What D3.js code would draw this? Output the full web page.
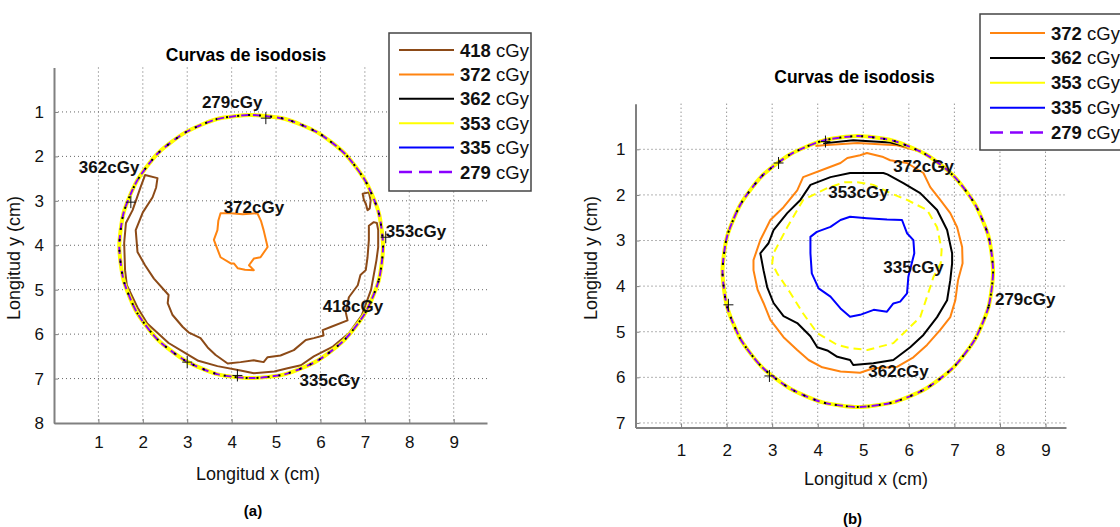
<!DOCTYPE html>
<html>
<head>
<meta charset="utf-8">
<title>Curvas de isodosis</title>
<script src="https://d3js.org/d3.v7.min.js"></script>
<style>
  body { margin: 0; background: #fff; }
  text { font-family: "Liberation Sans", Arial, sans-serif; }
</style>
</head>
<body>
<div id="chart"></div>
<script>
// ---------- data (cm) ----------
const xTicks = [1, 2, 3, 4, 5, 6, 7, 8, 9];
const yTicksA = [1, 2, 3, 4, 5, 6, 7, 8];
const yTicksB = [1, 2, 3, 4, 5, 6, 7];

const legendA = ["418", "372", "362", "353", "335", "279"];
const legendB = ["372", "362", "353", "335", "279"];

// panel (a): outer ring where 279/353/362/335 coincide
const ringA = [[7.41,4.03],[7.31,4.80],[7.01,5.52],[6.54,6.13],[5.93,6.60],[5.21,6.90],[4.44,6.99],
  [3.67,6.90],[2.96,6.60],[2.34,6.13],[1.87,5.52],[1.57,4.80],[1.47,4.03],[1.57,3.26],[1.87,2.55],
  [2.34,1.93],[2.96,1.46],[3.67,1.16],[4.44,1.07],[5.21,1.16],[5.93,1.46],[6.54,1.93],[7.01,2.55],[7.31,3.26]];

const c418A = [[2.05,2.42],[1.95,2.69],[1.77,3.21],[1.62,3.50],[1.58,3.95],[1.60,4.56],[1.64,4.90],
  [1.88,5.40],[2.10,5.76],[2.58,6.20],[2.95,6.42],[3.25,6.60],[3.68,6.72],[4.20,6.82],[4.50,6.88],
  [4.96,6.84],[5.26,6.77],[5.56,6.70],[5.85,6.50],[6.28,6.28],[6.64,5.98],[6.93,5.58],[7.14,5.00],
  [7.26,4.34],[7.30,4.04],[7.30,3.66],[7.27,3.50],[7.20,3.48],[7.09,3.56],[7.09,3.88],[7.06,4.27],
  [7.02,4.56],[6.90,4.67],[6.84,4.90],[6.64,5.17],[6.57,5.51],[6.61,5.69],[6.23,5.84],[6.05,5.91],
  [6.07,6.03],[5.85,6.09],[5.67,6.13],[5.40,6.36],[5.10,6.48],[4.81,6.52],[4.72,6.63],[4.50,6.59],
  [4.20,6.63],[3.91,6.66],[3.64,6.47],[3.46,6.30],[3.30,6.09],[3.03,5.96],[2.90,5.84],[2.67,5.57],
  [2.56,5.30],[2.58,5.12],[2.25,4.75],[2.05,4.45],[1.88,4.15],[1.84,3.66],[2.00,3.26],[2.22,2.92],
  [2.30,2.70],[2.33,2.49]];
const c418smallA = [[6.95,2.84],[7.09,2.81],[7.13,2.99],[7.11,3.17],[7.06,3.21],[7.02,3.06],[6.98,2.99]];

const c372A = [[3.75,3.28],[3.98,3.28],[4.25,3.30],[4.58,3.28],[4.66,3.45],[4.72,3.66],[4.81,4.04],
  [4.65,4.27],[4.50,4.30],[4.39,4.45],[4.50,4.56],[4.30,4.55],[4.14,4.52],[4.05,4.41],[3.98,4.41],
  [3.75,4.27],[3.60,3.88],[3.68,3.66],[3.70,3.45]];

const crossesA = [[1.73,3.03],[4.77,1.14],[7.47,3.82],[3.00,6.63],[4.13,6.93]];

const labelsA = [["279cGy",3.33,0.91],["362cGy",0.56,2.38],["372cGy",3.82,3.28],
  ["353cGy",7.47,3.82],["418cGy",6.05,5.51],["335cGy",5.53,7.17]];

// panel (b)
const ringB = [[7.85,3.68],[7.75,4.45],[7.45,5.17],[6.98,5.78],[6.37,6.25],[5.65,6.55],[4.88,6.65],
  [4.11,6.55],[3.40,6.25],[2.78,5.78],[2.31,5.17],[2.01,4.45],[1.91,3.68],[2.01,2.91],[2.31,2.20],
  [2.78,1.58],[3.40,1.11],[4.11,0.81],[4.88,0.71],[5.65,0.81],[6.37,1.11],[6.98,1.58],[7.45,2.20],[7.75,2.91]];

const c372B = [[4.65,1.19],[4.93,1.13],[5.08,1.08],[5.44,1.17],[5.59,1.24],[5.96,1.30],[6.32,1.52],
  [6.47,1.83],[6.69,2.11],[6.91,2.40],[7.06,2.71],[7.17,3.14],[7.18,3.50],[7.08,3.87],[7.02,4.31],
  [6.91,4.68],[6.69,4.96],[6.40,5.29],[6.10,5.56],[5.74,5.77],[5.22,5.80],[4.93,5.90],[4.50,5.87],
  [4.10,5.78],[3.80,5.62],[3.55,5.40],[3.25,5.12],[2.96,4.74],[2.81,4.37],[2.68,4.08],[2.59,3.65],
  [2.59,3.43],[2.74,2.99],[2.96,2.55],[3.25,2.27],[3.55,1.90],[3.68,1.61],[4.21,1.41],[4.50,1.30]];
const c372topB = [[3.95,0.93],[4.12,0.91],[4.87,0.86],[5.74,0.91],[6.25,1.05]];

const c362B = [[4.71,1.52],[5.09,1.52],[5.44,1.52],[5.53,1.55],[5.88,1.74],[6.25,1.96],[6.62,2.33],
  [6.84,2.77],[6.95,3.28],[6.95,3.50],[6.91,3.87],[6.84,4.31],[6.62,4.68],[6.32,5.07],[6.03,5.34],
  [5.66,5.62],[5.22,5.69],[4.78,5.73],[4.71,5.62],[4.43,5.55],[4.21,5.41],[3.99,5.34],[3.84,5.10],
  [3.55,4.81],[3.25,4.66],[3.03,4.37],[2.89,4.02],[2.81,3.65],[2.74,3.28],[2.92,3.06],[3.03,2.77],
  [3.33,2.40],[3.62,2.11],[3.84,1.78],[4.28,1.61]];
const c362topB = [[4.12,0.87],[4.78,0.80],[5.59,0.85],[6.10,0.97]];

const c353B = [[4.87,1.72],[5.22,1.78],[5.59,1.96],[5.96,2.11],[6.40,2.33],[6.62,2.71],[6.72,3.20],
  [6.70,3.50],[6.54,3.80],[6.47,4.02],[6.25,4.68],[5.96,4.96],[5.66,5.25],[5.09,5.40],[4.71,5.36],
  [4.43,5.29],[3.99,5.03],[3.68,4.60],[3.40,4.15],[3.11,3.72],[3.00,3.50],[3.03,3.28],[3.33,2.71],
  [3.68,2.11],[4.21,1.85],[4.60,1.72]];

const c335B = [[4.71,2.48],[5.08,2.51],[5.52,2.54],[5.85,2.55],[5.96,2.84],[6.10,2.99],[6.12,3.28],
  [5.99,3.79],[5.96,4.16],[5.81,4.34],[5.66,4.38],[5.52,4.56],[5.23,4.52],[4.93,4.63],[4.71,4.67],
  [4.50,4.49],[4.28,4.23],[4.02,4.05],[3.87,3.72],[3.84,3.28],[3.84,2.92],[3.98,2.81],[4.28,2.70],[4.50,2.55]];

const crossesB = [[3.14,1.30],[4.17,0.83],[2.04,4.41],[2.94,5.97]];

const labelsB = [["372cGy",5.66,1.49],["353cGy",4.23,2.07],["335cGy",5.44,3.72],
  ["279cGy",7.89,4.41],["362cGy",5.11,5.99]];

// ---------- styles ----------
const colors = {"418": "#8c4a17", "372": "#ff8410", "362": "#000000",
                "353": "#ffff00", "335": "#0000ff", "279": "#8a00ff"};

const svg = d3.select("#chart").append("svg")
    .attr("width", 1120)
    .attr("height", 527);

const lineClosed = d3.line().curve(d3.curveLinearClosed);
const lineOpen = d3.line().curve(d3.curveLinear);
const ringLine = d3.line().curve(d3.curveCardinalClosed.tension(0.3));

function panel(cfg) {
  const x = d3.scaleLinear().domain([0, cfg.xMax]).range([cfg.left, cfg.right]);
  const y = d3.scaleLinear().domain([0, cfg.yMax]).range([cfg.top, cfg.bottom]);
  const g = svg.append("g");

  // dotted grid
  g.append("g").selectAll("line").data(xTicks).join("line")
      .attr("x1", d => x(d)).attr("x2", d => x(d))
      .attr("y1", cfg.top).attr("y2", cfg.bottom)
      .attr("stroke", "#666").attr("stroke-dasharray", "1,3");
  g.append("g").selectAll("line").data(cfg.yTicks.filter(d => d < cfg.yMax - 0.05)).join("line")
      .attr("x1", cfg.left).attr("x2", cfg.right)
      .attr("y1", d => y(d)).attr("y2", d => y(d))
      .attr("stroke", "#666").attr("stroke-dasharray", "1,3");

  // axes
  const ax = g.append("g")
      .attr("transform", `translate(0,${cfg.bottom})`)
      .call(d3.axisBottom(x).tickValues(xTicks).tickSizeInner(-4).tickSizeOuter(0)
        .tickPadding(cfg.xPad).tickFormat(d3.format("d")));
  const ay = g.append("g")
      .attr("transform", `translate(${cfg.left},0)`)
      .call(d3.axisLeft(y).tickValues(cfg.yTicks).tickSizeInner(-4).tickSizeOuter(0)
        .tickPadding(10).tickFormat(d3.format("d")));
  [ax, ay].forEach(a => {
    a.attr("font-family", "Liberation Sans, Arial, sans-serif").attr("font-size", 17);
    a.select(".domain").attr("stroke", "#808080").attr("stroke-width", 2);
    a.selectAll(".tick line").attr("stroke", "#808080");
    a.selectAll(".tick text").attr("fill", "#111");
  });

  const px = p => [x(p[0]), y(p[1])];

  // inner contours
  cfg.curves.forEach(c => {
    g.append("path")
        .attr("d", (c.closed ? lineClosed : lineOpen)(c.data.map(px)))
        .attr("fill", "none")
        .attr("stroke", colors[c.dose])
        .attr("stroke-width", c.width || 2)
        .attr("stroke-dasharray", c.dash || null)
        .attr("stroke-linejoin", "round");
  });

  // outer ring (several isodoses coincide)
  const ringD = ringLine(cfg.ring.map(px));
  g.append("path").attr("d", ringD).attr("fill", "none")
      .attr("stroke", colors["335"]).attr("stroke-width", 2);
  g.append("path").attr("d", ringD).attr("fill", "none")
      .attr("stroke", colors["353"]).attr("stroke-width", 4);
  g.append("path").attr("d", ringD).attr("fill", "none")
      .attr("stroke", colors["279"]).attr("stroke-width", 2)
      .attr("stroke-dasharray", "7,5");
  g.append("path").attr("d", ringD).attr("fill", "none")
      .attr("stroke", colors["362"]).attr("stroke-width", 2)
      .attr("stroke-dasharray", "2,9");

  // small + marks
  g.append("g").selectAll("path").data(cfg.crosses).join("path")
      .attr("transform", d => `translate(${x(d[0])},${y(d[1])})`)
      .attr("d", "M-5,0H5M0,-6V6")
      .attr("stroke", "#111").attr("stroke-width", 1);

  // inline labels
  g.append("g").selectAll("text").data(cfg.labels).join("text")
      .attr("x", d => x(d[1])).attr("y", d => y(d[2]))
      .attr("font-size", 17).attr("font-weight", "bold").attr("fill", "#111")
      .text(d => d[0]);

  // titles
  g.append("text").attr("x", cfg.titleX).attr("y", cfg.titleY)
      .attr("text-anchor", "middle").attr("font-size", 17.5).attr("font-weight", "bold")
      .text("Curvas de isodosis");
  g.append("text").attr("x", cfg.xLabelX).attr("y", cfg.xLabelY)
      .attr("text-anchor", "middle").attr("font-size", 18).attr("fill", "#111")
      .text("Longitud x (cm)");
  g.append("text")
      .attr("transform", `translate(${cfg.yLabelX},${cfg.yLabelY}) rotate(-90)`)
      .attr("text-anchor", "middle").attr("font-size", 18).attr("fill", "#111")
      .text("Longitud y (cm)");
  g.append("text").attr("x", cfg.tagX).attr("y", cfg.tagY)
      .attr("text-anchor", "middle").attr("font-size", 15).attr("font-weight", "bold")
      .text(cfg.tag);

  // legend
  const lg = g.append("g");
  lg.append("rect")
      .attr("x", cfg.legend.x).attr("y", cfg.legend.y)
      .attr("width", cfg.legend.w).attr("height", cfg.legend.h)
      .attr("fill", "#fff").attr("stroke", "#444").attr("stroke-width", 1.5);
  const row = lg.selectAll("g").data(cfg.legend.items).join("g")
      .attr("transform", (d, i) => `translate(${cfg.legend.x},${cfg.legend.y0 + i * cfg.legend.step})`);
  row.append("line")
      .attr("x1", 10).attr("x2", 65)
      .attr("stroke", d => colors[d])
      .attr("stroke-width", d => d === "279" ? 2.5 : 2)
      .attr("stroke-dasharray", d => d === "279" ? "13,7" : null);
  const t = row.append("text").attr("x", 71).attr("y", 6.5).attr("font-size", 18.5).attr("fill", "#111");
  t.append("tspan").attr("font-weight", "bold").text(d => d);
  t.append("tspan").text(" cGy");
}

panel({
  xMax: 9.75, yMax: 8, left: 54, right: 487, top: 67.5, bottom: 423,
  yTicks: yTicksA, xPad: 13,
  ring: ringA,
  curves: [
    {dose: "418", data: c418A, closed: true},
    {dose: "418", data: c418smallA, closed: true},
    {dose: "372", data: c372A, closed: true}
  ],
  crosses: crossesA, labels: labelsA,
  titleX: 246, titleY: 61, xLabelX: 258, xLabelY: 480, yLabelX: 20, yLabelY: 258,
  tag: "(a)", tagX: 253, tagY: 516,
  legend: {x: 389, y: 33, w: 142, h: 158, y0: 50, step: 24.4, items: legendA}
});

panel({
  xMax: 9.45, yMax: 7.1, left: 635.5, right: 1066, top: 103.7, bottom: 427.5,
  yTicks: yTicksB, xPad: 16,
  ring: ringB,
  curves: [
    {dose: "335", data: c335B, closed: true},
    {dose: "353", data: c353B, closed: true, dash: "8,5"},
    {dose: "362", data: c362B, closed: true},
    {dose: "372", data: c372B, closed: true},
    {dose: "372", data: c372topB, closed: false},
    {dose: "362", data: c362topB, closed: false}
  ],
  crosses: crossesB, labels: labelsB,
  titleX: 854.5, titleY: 83, xLabelX: 866, xLabelY: 485, yLabelX: 597, yLabelY: 258,
  tag: "(b)", tagX: 852.5, tagY: 524,
  legend: {x: 980, y: 14, w: 150, h: 136, y0: 33, step: 24.9, items: legendB}
});
</script>
</body>
</html>
